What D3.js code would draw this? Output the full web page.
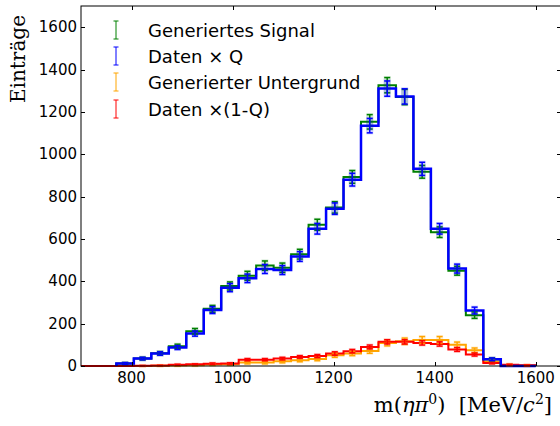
<!DOCTYPE html>
<html>
<head>
  <meta charset="utf-8">
  <script src="https://d3js.org/d3.v7.min.js"></script>
</head>
<style>
  body { margin: 0; background: #fff; }
  svg { display: block; }
</style>
<body>
  <svg width="560" height="426"></svg>

  <script>
    // Histogram binning (24 bins between 770 and 1600 MeV)
    const binLo = 770, binHi = 1600, nBins = 24;

    // Bin contents
    const signalGen = [12, 35, 60, 93, 164, 270, 378, 426, 474, 464, 528, 667, 749, 893, 1153, 1326, 1270, 917, 632, 450, 240, 32, 0, 0];
    const signalGenErr = [4, 6, 8, 10, 13, 16, 19, 21, 22, 22, 23, 26, 27, 30, 34, 36, 36, 30, 25, 21, 15, 6, 0, 0];
    const dataQ = [12, 35, 59, 87, 153, 264, 370, 414, 458, 453, 517, 648, 743, 880, 1135, 1310, 1273, 931, 648, 460, 262, 32, 0, 0];
    const dataQErr = [4, 6, 8, 9, 12, 16, 19, 20, 21, 21, 23, 25, 27, 30, 34, 36, 36, 31, 25, 21, 16, 6, 0, 0];
    const bkgGen = [0, 0, 1, 2, 4, 7, 8, 16, 16, 22, 27, 33, 51, 59, 71, 109, 117, 123, 123, 100, 74, 21, 5, 3];
    const bkgGenErr = [0, 1, 1, 2, 3, 4, 4, 6, 6, 7, 7, 8, 10, 10, 11, 14, 15, 16, 16, 13, 11, 6, 3, 2];
    const data1mQ = [0, 1, 2, 6, 8, 11, 12, 30, 30, 35, 43, 47, 59, 70, 90, 114, 114, 109, 104, 78, 54, 14, 6, 3];
    const data1mQErr = [0, 1, 1, 2, 2, 3, 3, 5, 5, 6, 6, 7, 8, 8, 9, 10, 10, 10, 10, 9, 7, 4, 2, 2];

    const xTicks = [800, 1000, 1200, 1400, 1600];
    const yTicks = [0, 200, 400, 600, 800, 1000, 1200, 1400, 1600];

    const series = [
      {name: 'Generierter Untergrund', vals: bkgGen, errs: bkgGenErr, color: '#ffa500', lw: 2},
      {name: 'Daten \u00d7(1-Q)', vals: data1mQ, errs: data1mQErr, color: '#ff0000', lw: 2, leadIn: true},
      {name: 'Generiertes Signal', vals: signalGen, errs: signalGenErr, color: '#008000', lw: 2},
      {name: 'Daten \u00d7 Q', vals: dataQ, errs: dataQErr, color: '#0000ff', lw: 2.5}
    ];
    const legendOrder = [2, 3, 0, 1];

    const svg = d3.select('svg');
    const pL = 81, pR = 561, pT = 6, pB = 366;

    const x = d3.scaleLinear().domain([700, 1650]).range([pL, pR]);
    const y = d3.scaleLinear().domain([0, 1700]).range([pB, pT]);

    const bw = (binHi - binLo) / nBins;
    const edges = d3.range(nBins + 1).map(i => binLo + i * bw);
    const centers = d3.range(nBins).map(i => binLo + (i + 0.5) * bw);

    const plot = svg.append('g');

    // Step lines
    series.forEach(s => {
      const pts = [];
      if (s.leadIn) pts.push([x.domain()[0], 0]);
      pts.push([edges[0], 0]);
      s.vals.forEach((v, i) => { pts.push([edges[i], v]); pts.push([edges[i + 1], v]); });
      pts.push([edges[nBins], 0]);
      plot.append('path')
        .attr('d', d3.line().x(d => x(d[0])).y(d => y(d[1]))(pts))
        .attr('fill', 'none')
        .attr('stroke', s.color)
        .attr('stroke-width', s.lw)
        .attr('stroke-linejoin', 'miter');
    });

    // Error bars
    series.forEach(s => {
      const g = plot.append('g');
      s.vals.forEach((v, i) => {
        const e = s.errs[i];
        if (v === 0 && e === 0) return;
        const cx = x(centers[i]);
        const y1 = y(v + e), y2 = y(v - e);
        g.append('rect')
          .attr('x', cx - 3.5).attr('y', y1 - 1.5)
          .attr('width', 7).attr('height', (y2 - y1) + 3)
          .attr('fill', s.color).attr('opacity', 0.18);
        g.append('line')
          .attr('x1', cx).attr('x2', cx).attr('y1', y1).attr('y2', y2)
          .attr('stroke', s.color).attr('stroke-width', 1.5);
        [y1, y2].forEach(yy => {
          g.append('line')
            .attr('x1', cx - 3).attr('x2', cx + 3).attr('y1', yy).attr('y2', yy)
            .attr('stroke', s.color).attr('stroke-width', 1.5);
        });
      });
    });

    // Frame
    svg.append('rect')
      .attr('x', pL).attr('y', pT)
      .attr('width', pR - pL).attr('height', pB - pT)
      .attr('fill', 'none').attr('stroke', '#000').attr('stroke-width', 1);

    // Ticks (inward, on all sides)
    const tickLen = 4;
    xTicks.forEach(t => {
      const xx = Math.round(x(t)) + 0.5;
      svg.append('line').attr('x1', xx).attr('x2', xx).attr('y1', pB).attr('y2', pB - tickLen).attr('stroke', '#000');
      svg.append('line').attr('x1', xx).attr('x2', xx).attr('y1', pT).attr('y2', pT + tickLen).attr('stroke', '#000');
      svg.append('text')
        .attr('x', x(t)).attr('y', pB + 17)
        .attr('text-anchor', 'middle')
        .style('font-family', 'DejaVu Sans').style('font-size', '15px')
        .text(t);
    });
    yTicks.forEach(t => {
      const yy = Math.round(y(t)) + 0.5;
      svg.append('line').attr('x1', pL).attr('x2', pL + tickLen).attr('y1', yy).attr('y2', yy).attr('stroke', '#000');
      svg.append('line').attr('x1', pR).attr('x2', pR - tickLen).attr('y1', yy).attr('y2', yy).attr('stroke', '#000');
      svg.append('text')
        .attr('x', pL - 4).attr('y', y(t) + 5)
        .attr('text-anchor', 'end')
        .style('font-family', 'DejaVu Sans').style('font-size', '15px')
        .text(t);
    });

    // Axis labels
    svg.append('text')
      .attr('transform', 'translate(25,15) rotate(-90)')
      .attr('text-anchor', 'end')
      .style('font-family', 'DejaVu Serif').style('font-size', '20px')
      .text('Einträge');

    const xl = svg.append('text')
      .attr('x', 552).attr('y', 412)
      .attr('text-anchor', 'end')
      .style('font-family', 'DejaVu Serif').style('font-size', '21px');
    xl.append('tspan').text('m(');
    xl.append('tspan').style('font-style', 'italic').text('ηπ');
    xl.append('tspan').attr('dy', -8).style('font-size', '14px').text('0');
    xl.append('tspan').attr('dy', 8).text(')\u00a0\u00a0[MeV/');
    xl.append('tspan').style('font-style', 'italic').text('c');
    xl.append('tspan').attr('dy', -8).style('font-size', '14px').text('2');
    xl.append('tspan').attr('dy', 8).text(']');

    // Legend
    const legendY = [30, 56, 82, 109];
    legendOrder.forEach((si, r) => {
      const s = series[si];
      const cy = legendY[r];
      const lx = 116;
      svg.append('line').attr('x1', lx).attr('x2', lx).attr('y1', cy - 9).attr('y2', cy + 9)
        .attr('stroke', s.color).attr('stroke-width', 1);
      [cy - 9, cy + 9].forEach(yy => {
        svg.append('line').attr('x1', lx - 2.5).attr('x2', lx + 2.5).attr('y1', yy).attr('y2', yy)
          .attr('stroke', s.color).attr('stroke-width', 1);
      });
      svg.append('text')
        .attr('x', 148).attr('y', cy + 6.5)
        .style('font-family', 'DejaVu Sans').style('font-size', '18px')
        .text(s.name);
    });
  </script>
</body>
</html>
